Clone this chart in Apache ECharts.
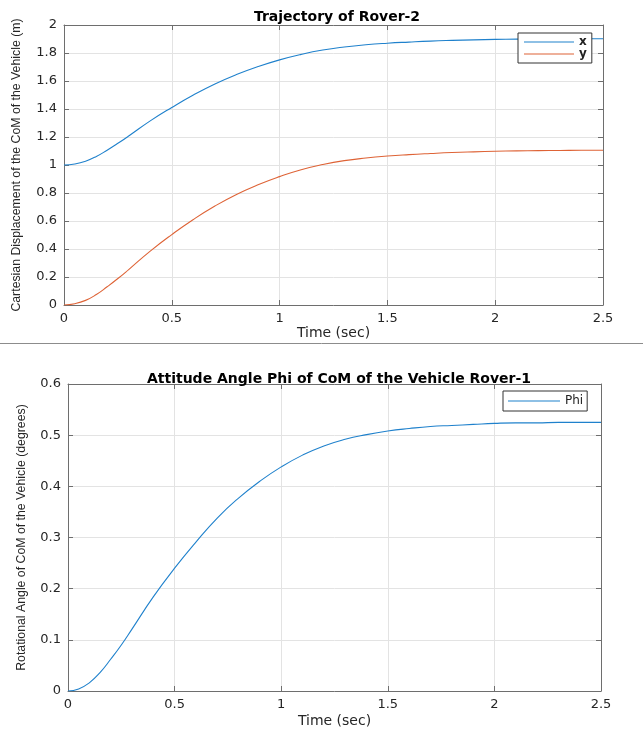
<!DOCTYPE html>
<html>
<head>
<meta charset="utf-8">
<script src="https://cdn.jsdelivr.net/npm/echarts@6/dist/echarts.min.js"></script>
<style>
html,body{margin:0;padding:0;background:#fff;}
#c{width:643px;height:730px;}
</style>
</head>
<body>
<div id="c"></div>
<script>
// Time samples (sec)
var time = [0,0.05,0.1,0.15,0.2,0.25,0.3,0.4,0.5,0.6,0.7,0.8,0.9,1.0,1.1,1.2,1.3,1.4,1.5,1.6,1.7,1.8,1.9,2.0,2.1,2.2,2.3,2.4,2.5];
// Rover-2 x displacement (m)
var xPos = [1.000,1.007,1.027,1.061,1.106,1.155,1.207,1.315,1.411,1.500,1.579,1.646,1.703,1.751,1.790,1.821,1.843,1.859,1.870,1.878,1.885,1.890,1.894,1.897,1.899,1.900,1.901,1.902,1.902];
// Rover-2 y displacement (m)
var yPos = [0.000,0.009,0.033,0.075,0.130,0.189,0.253,0.385,0.503,0.611,0.707,0.790,0.859,0.917,0.966,1.003,1.031,1.050,1.064,1.074,1.082,1.089,1.094,1.098,1.101,1.103,1.104,1.105,1.105];
// Rover-1 attitude angle phi (degrees)
var phi = [0.000,0.004,0.016,0.036,0.062,0.090,0.121,0.184,0.240,0.291,0.338,0.377,0.410,0.438,0.461,0.479,0.492,0.501,0.508,0.513,0.517,0.519,0.521,0.523,0.524,0.524,0.525,0.525,0.525];

function pairs(vals){ return time.map(function(t,i){ return [t, vals[i]]; }); }

var FONT = '"DejaVu Sans", "Liberation Sans", sans-serif';
var VFONT = '"Liberation Sans", Arial, sans-serif';
var AX = '#6e6e6e';
var TXT = '#262626';
var GRIDC = '#e3e3e3';
var BLUE = '#1f81cc';
var ORANGE = '#de6336';

function mainX(gi){
  return {type:'value', gridIndex:gi, min:0, max:2.5, interval:0.5, position:'bottom',
    name:'Time (sec)', nameLocation:'middle', nameGap: gi===0?21:23,
    nameTextStyle:{fontFamily:FONT,fontSize:14,color:TXT},
    axisLine:{show:true,lineStyle:{color:AX,width:1}},
    axisTick:{show:true,inside:true,length:5,lineStyle:{color:AX}},
    axisLabel:{fontFamily:FONT,fontSize:13,color:TXT,margin:7},
    splitLine:{show:true,lineStyle:{color:GRIDC,width:1}}};
}
function sideX(gi){
  return {type:'value', gridIndex:gi, min:0, max:2.5, interval:0.5, position:'top',
    axisLine:{show:true,onZero:false,lineStyle:{color:AX,width:1}},
    axisTick:{show:true,inside:true,length:5,lineStyle:{color:AX}},
    axisLabel:{show:false}, splitLine:{show:false}};
}
function mainY(gi,max,iv,name,gap){
  return {type:'value', gridIndex:gi, min:0, max:max, interval:iv, position:'left',
    name:name, nameLocation:'middle', nameRotate:90, nameGap:gap,
    nameTextStyle:{fontFamily:VFONT,fontSize:12.3,color:TXT},
    axisLine:{show:true,onZero:false,lineStyle:{color:AX,width:1}},
    axisTick:{show:true,inside:true,length:5,lineStyle:{color:AX}},
    axisLabel:{fontFamily:FONT,fontSize:13,color:TXT,margin:7},
    splitLine:{show:true,lineStyle:{color:GRIDC,width:1}}};
}
function sideY(gi,max,iv){
  return {type:'value', gridIndex:gi, min:0, max:max, interval:iv, position:'right',
    axisLine:{show:true,onZero:false,lineStyle:{color:AX,width:1}},
    axisTick:{show:true,inside:true,length:5,lineStyle:{color:AX}},
    axisLabel:{show:false}, splitLine:{show:false}};
}

var chart = echarts.init(document.getElementById('c'), null, {renderer:'canvas'});
chart.setOption({
  backgroundColor:'#ffffff',
  animation:false,
  title:[
    {text:'Trajectory of Rover-2', left:332, top:5, textAlign:'center',
     textStyle:{fontFamily:FONT,fontSize:14,fontWeight:'bold',color:'#000'}},
    {text:'Attitude Angle Phi of CoM of the Vehicle Rover-1', left:334, top:367, textAlign:'center',
     textStyle:{fontFamily:FONT,fontSize:14,fontWeight:'bold',color:'#000'}}
  ],
  legend:[
    {data:['x','y'], orient:'vertical', left:518, top:33, icon:'rect', itemWidth:50, itemHeight:1.2, itemGap:0,
     padding:[3,5,3,6], backgroundColor:'#fff', borderColor:'#333', borderWidth:1,
     textStyle:{fontFamily:FONT,fontSize:12,fontWeight:'bold',color:'#222'}},
    {data:['Phi'], orient:'vertical', left:503, top:391, icon:'rect', itemWidth:52, itemHeight:1.2,
     padding:[4,4,4,5], backgroundColor:'#fff', borderColor:'#333', borderWidth:1,
     textStyle:{fontFamily:FONT,fontSize:12,color:'#222'}}
  ],
  grid:[
    {left:64, top:25, width:539, height:280, containLabel:false},
    {left:68, top:384, width:533, height:307, containLabel:false}
  ],
  xAxis:[mainX(0), sideX(0), mainX(1), sideX(1)],
  yAxis:[
    mainY(0,2,0.2,'Cartesian Displacement of the CoM of the Vehicle (m)',41),
    sideY(0,2,0.2),
    mainY(1,0.6,0.1,'Rotational Angle of CoM of the Vehicle (degrees)',40),
    sideY(1,0.6,0.1)
  ],
  graphic:[
    {type:'line', shape:{x1:0,y1:343.5,x2:643,y2:343.5}, style:{stroke:'#8c8c8c',lineWidth:1}, z:100}
  ],
  series:[
    {name:'x', type:'line', xAxisIndex:0, yAxisIndex:0, data:pairs(xPos), smooth:0.5, symbol:'none',
     lineStyle:{color:BLUE,width:1.1}, itemStyle:{color:BLUE}, z:3},
    {name:'y', type:'line', xAxisIndex:0, yAxisIndex:0, data:pairs(yPos), smooth:0.5, symbol:'none',
     lineStyle:{color:ORANGE,width:1.1}, itemStyle:{color:ORANGE}, z:3},
    {name:'Phi', type:'line', xAxisIndex:2, yAxisIndex:2, data:pairs(phi), smooth:0.5, symbol:'none',
     lineStyle:{color:BLUE,width:1.1}, itemStyle:{color:BLUE}, z:3}
  ]
});
</script>
</body>
</html>
